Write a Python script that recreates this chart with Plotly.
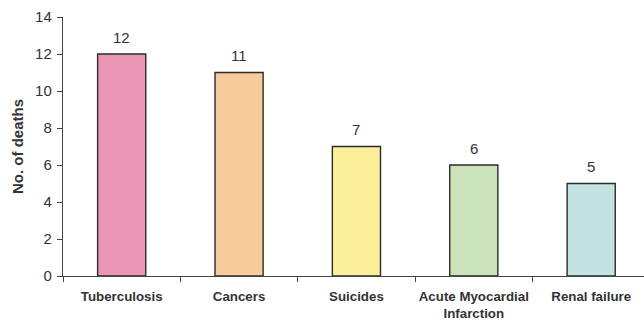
import plotly.graph_objects as go

causes = ["Tuberculosis", "Cancers", "Suicides", "Acute Myocardial<br>Infarction", "Renal failure"]
deaths = [12, 11, 7, 6, 5]
bar_colors = ["#EC96B5", "#F7CB9C", "#FAF09B", "#CAE3BA", "#C3E2E1"]
y_ticks = [0, 2, 4, 6, 8, 10, 12, 14]

FONT = "Liberation Sans, Arial, sans-serif"
INK = "#333333"

fig = go.Figure(
    go.Bar(
        x=causes,
        y=deaths,
        width=0.41,
        marker=dict(color=bar_colors, line=dict(color="#2b2b2b", width=1.4)),
        hoverinfo="skip",
    )
)

# value labels above each bar
for c, v in zip(causes, deaths):
    fig.add_annotation(
        x=c, y=v, text=str(v), showarrow=False, yshift=17,
        font=dict(family=FONT, size=15, color=INK),
    )

fig.update_layout(
    width=644,
    height=320,
    margin=dict(l=63, r=0, t=17, b=44),
    plot_bgcolor="white",
    paper_bgcolor="white",
    showlegend=False,
    font=dict(family=FONT, color=INK),
)

fig.update_xaxes(
    range=[-0.5, 4.45],
    showline=True,
    linecolor="#444444",
    linewidth=1.4,
    ticks="outside",
    tickson="boundaries",
    ticklen=5,
    tickcolor="#444444",
    tickfont=dict(size=13.3, color=INK, family=FONT),
    ticklabelstandoff=8,
    showgrid=False,
    tickangle=0,
    tickvals=causes,
    ticktext=["<b>" + c + "</b>" for c in causes],
)

fig.update_yaxes(
    range=[0, 14],
    tickvals=y_ticks,
    showline=True,
    linecolor="#444444",
    linewidth=1.4,
    ticks="outside",
    ticklen=5,
    tickcolor="#444444",
    tickfont=dict(size=15, color=INK),
    ticklabelstandoff=2,
    showgrid=False,
    zeroline=False,
    title=dict(text="<b>No. of deaths</b>", font=dict(size=15, color=INK), standoff=7),
)

fig.write_html("out.html")
